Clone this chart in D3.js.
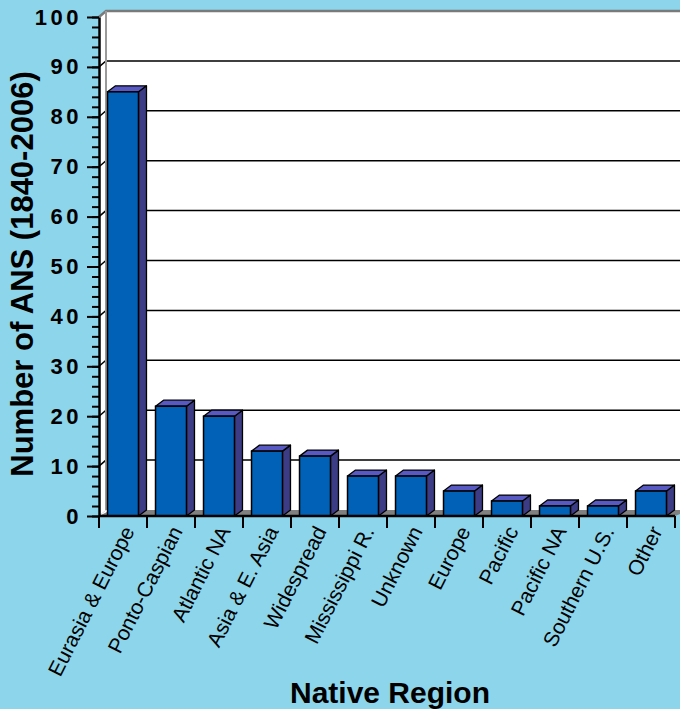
<!DOCTYPE html>
<html>
<head>
<meta charset="utf-8">
<script src="https://cdn.jsdelivr.net/npm/d3@7/dist/d3.min.js"></script>
<style>
  body { margin: 0; background: #8dd5ea; }
  text { font-family: "Liberation Sans", Arial, sans-serif; fill: #000; }
</style>
</head>
<body>
<div id="canvas"></div>
<script>
const categories = ["Eurasia & Europe", "Ponto-Caspian", "Atlantic NA", "Asia & E. Asia",
    "Widespread", "Mississippi R.", "Unknown", "Europe", "Pacific", "Pacific NA",
    "Southern U.S.", "Other"];
const values = [85, 22, 20, 13, 12, 8, 8, 5, 3, 2, 2, 5];
const majorTicks = [0, 10, 20, 30, 40, 50, 60, 70, 80, 90, 100];
const minorTicks = d3.range(0, 101, 2);

const width = 680;
const height = 709;
// depth offset of the 3d effect
const dx = 7, dy = -6;

const svg = d3.select("#canvas").append("svg")
    .attr("width", width)
    .attr("height", height);

svg.append("rect").attr("width", width).attr("height", height).attr("fill", "#8dd5ea");

const x = d3.scaleBand()
    .domain(categories)
    .range([99, 675])
    .padding(0);

const y = d3.scaleLinear()
    .domain([0, 100])
    .range([516, 17]);

const x0 = x.range()[0], x1 = x.range()[1];

// back wall
svg.append("rect")
    .attr("x", x0 + dx).attr("y", y(100) + dy)
    .attr("width", width - x0 - dx + 10).attr("height", y(0) - y(100))
    .attr("fill", "#fff");
// side wall
svg.append("path")
    .attr("d", `M${x0},${y(0)}L${x0},${y(100)}L${x0 + dx},${y(100) + dy}L${x0 + dx},${y(0) + dy}Z`)
    .attr("fill", "#fff");
// floor
svg.append("path")
    .attr("d", `M${x0},${y(0)}L${x0 + dx},${y(0) + dy}L${width + 10},${y(0) + dy}L${x1},${y(0)}Z`)
    .attr("fill", "#808080");
svg.append("path")
    .attr("d", `M${x0},${y(0)}L${x0 + dx},${y(0) + dy}L${x0 + 12},${y(0) + dy}Z`)
    .attr("fill", "#fff");

// grid lines
svg.append("g").selectAll("path")
    .data(majorTicks.filter(d => d > 0 && d < 100))
    .enter().append("path")
    .attr("d", d => `M${x0},${y(d)}L${x0 + dx},${y(d) + dy}L${width + 10},${y(d) + dy}`)
    .attr("fill", "none")
    .attr("stroke", "#000")
    .attr("stroke-width", 1.5);

// wall edges
svg.append("path")
    .attr("d", `M${x0},${y(100)}L${x0 + dx},${y(100) + dy}L${width + 10},${y(100) + dy}`)
    .attr("fill", "none").attr("stroke", "#7a7a7a").attr("stroke-width", 2.5);
svg.append("line")
    .attr("x1", x0 + dx).attr("x2", x0 + dx)
    .attr("y1", y(100) + dy).attr("y2", y(0) + dy)
    .attr("stroke", "#9a9a9a").attr("stroke-width", 2);

// bars
const barW = x.bandwidth() * 0.645;
const bdx = 8;
const bars = svg.append("g").selectAll("g")
    .data(categories)
    .enter().append("g");

const bx = d => x(d) + (x.bandwidth() - barW) / 2;
const by = (d, i) => y(values[i]);

bars.append("path")  // side
    .attr("d", (d, i) => `M${bx(d) + barW},${by(d, i)}L${bx(d) + barW + bdx},${by(d, i) + dy}L${bx(d) + barW + bdx},${y(0) + dy}L${bx(d) + barW},${y(0)}Z`)
    .attr("fill", "#3c3c86")
    .attr("stroke", "#000").attr("stroke-width", 1.3).attr("stroke-linejoin", "round");
bars.append("path")  // top
    .attr("d", (d, i) => `M${bx(d)},${by(d, i)}L${bx(d) + bdx},${by(d, i) + dy}L${bx(d) + barW + bdx},${by(d, i) + dy}L${bx(d) + barW},${by(d, i)}Z`)
    .attr("fill", "#5959c4")
    .attr("stroke", "#000").attr("stroke-width", 1.3).attr("stroke-linejoin", "round");
bars.append("rect")  // front
    .attr("x", d => bx(d))
    .attr("y", (d, i) => by(d, i))
    .attr("width", barW)
    .attr("height", (d, i) => y(0) - by(d, i))
    .attr("fill", "#0061b6")
    .attr("stroke", "#000").attr("stroke-width", 1.5);

// y axis
svg.append("g")
    .attr("transform", `translate(${x0},0)`)
    .call(d3.axisLeft(y).tickValues(minorTicks).tickSize(7).tickFormat(""))
    .call(g => g.select(".domain").remove())
    .call(g => g.selectAll("line").attr("stroke-width", 2));
const yAxis = svg.append("g")
    .attr("transform", `translate(${x0},0)`)
    .call(d3.axisLeft(y).tickValues(majorTicks).tickSize(12).tickSizeOuter(0).tickPadding(5));
yAxis.select(".domain").attr("stroke-width", 2.5);
yAxis.selectAll("line").attr("stroke-width", 2);
yAxis.selectAll("text")
    .style("font-family", "'Liberation Sans', Arial, sans-serif")
    .style("font-size", "22px").style("font-weight", "bold")
    .style("letter-spacing", "3.5px")
    .attr("fill", "#000");

// x axis
const xAxis = svg.append("g");
xAxis.append("line")
    .attr("x1", x0).attr("x2", x1).attr("y1", y(0)).attr("y2", y(0))
    .attr("stroke", "#000").attr("stroke-width", 2.5);
xAxis.selectAll(".tick")
    .data(categories.map(d => x(d)).concat([x1]))
    .enter().append("line")
    .attr("x1", d => d).attr("x2", d => d)
    .attr("y1", y(0)).attr("y2", y(0) + 12)
    .attr("stroke", "#000").attr("stroke-width", 2);
xAxis.selectAll("text")
    .data(categories)
    .enter().append("text")
    .attr("transform", d => `translate(${x(d) + x.bandwidth() / 2 + 12},${y(0) + 15}) rotate(-63)`)
    .attr("text-anchor", "end")
    .style("font-size", "21px")
    .text(d => d);

// titles
svg.append("text")
    .attr("transform", `translate(33,274) rotate(-90)`)
    .attr("text-anchor", "middle")
    .style("font-size", "31px").style("font-weight", "bold")
    .text("Number of ANS (1840-2006)");
svg.append("text")
    .attr("x", 390).attr("y", 703)
    .attr("text-anchor", "middle")
    .style("font-size", "30px").style("font-weight", "bold")
    .text("Native Region");
</script>
</body>
</html>
